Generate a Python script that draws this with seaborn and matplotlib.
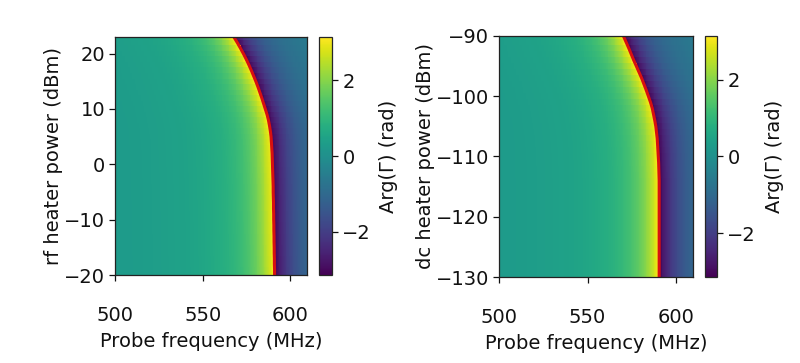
import numpy as np
import matplotlib
matplotlib.use("Agg")
import matplotlib.pyplot as plt
import seaborn as sns

# ---- data ----
freq_mhz = np.arange(500.0, 610.5, 0.5)          # probe frequency axis
linewidth_mhz = 12.0                              # resonance half-width

rf_power_dbm = np.arange(-20, 24, 1)              # rf heater power rows
rf_f0_mhz = [591.0, 591.0, 590.9, 590.9, 590.8, 590.8, 590.7, 590.7, 590.6, 590.6,
             590.5, 590.5, 590.4, 590.4, 590.3, 590.2, 590.2, 590.1, 590.0, 589.9,
             589.8, 589.7, 589.6, 589.4, 589.2, 589.0, 588.6, 588.1, 587.5, 586.7,
             585.7, 584.7, 583.7, 582.6, 581.5, 580.3, 579.0, 577.7, 576.3, 574.8,
             573.2, 571.5, 569.7, 567.8]

dc_power_dbm = np.arange(-130, -89, 1)            # dc heater power rows
dc_f0_mhz = [590.4] * 17 + [590.3, 590.2, 590.1, 589.9, 589.7, 589.5, 589.3, 588.9,
                            588.5, 587.9, 587.2, 586.5, 585.5, 584.3, 583.1, 581.8,
                            580.5, 579.0, 577.5, 576.0, 574.6, 573.2, 571.7, 570.2]

x_ticks = [500, 550, 600]
rf_yticks = [-20, -10, 0, 10, 20]
dc_yticks = [-130, -120, -110, -100, -90]
cb_ticks = [-2, 0, 2]


def phase_map(f0):
    f0 = np.asarray(f0)[:, None]
    theta = np.pi + 2.0 * np.arctan((freq_mhz[None, :] - f0) / linewidth_mhz)
    return np.angle(np.exp(1j * theta))


sns.set_style("ticks")
plt.rcParams["font.family"] = ["DejaVu Sans"]
plt.rcParams["font.size"] = 14
plt.rcParams["text.color"] = "#111111"
plt.rcParams["axes.labelcolor"] = "#111111"
plt.rcParams["xtick.color"] = "#111111"
plt.rcParams["ytick.color"] = "#111111"
plt.rcParams["axes.linewidth"] = 0.9
plt.rcParams["xtick.major.width"] = 0.9
plt.rcParams["ytick.major.width"] = 0.9

fig = plt.figure(figsize=(8.0, 3.63), dpi=100)

panels = [
    dict(ax=[0.14375, 0.2424, 0.24, 0.6556], cb=[0.39875, 0.2424, 0.01625, 0.6556],
         P=rf_power_dbm, f0=rf_f0_mhz, ylim=(-20, 23), yticks=rf_yticks,
         ylabel="rf heater power (dBm)", labelpad=1),
    dict(ax=[0.62375, 0.2369, 0.2425, 0.664], cb=[0.88125, 0.2369, 0.015, 0.664],
         P=dc_power_dbm, f0=dc_f0_mhz, ylim=(-130, -90), yticks=dc_yticks,
         ylabel="dc heater power (dBm)", labelpad=1),
]

for p in panels:
    ax = fig.add_axes(p["ax"])
    cax = fig.add_axes(p["cb"])
    Z = phase_map(p["f0"])
    mesh = ax.pcolormesh(freq_mhz, p["P"], Z, cmap="viridis", vmin=-np.pi, vmax=np.pi,
                         shading="nearest", rasterized=True)
    sns.lineplot(x=p["f0"], y=p["P"], sort=False, orient="y", ax=ax,
                 color="#d81010", linewidth=2.2, estimator=None)
    ax.set_xlim(500, 609.5)
    ax.set_ylim(*p["ylim"])
    ax.set_xticks(x_ticks)
    ax.set_yticks(p["yticks"])
    ax.tick_params(axis="x", pad=18, length=4)
    ax.tick_params(axis="y", length=4, pad=3)
    ax.set_xlabel("Probe frequency (MHz)", labelpad=5)
    ax.set_ylabel(p["ylabel"], labelpad=p["labelpad"])
    for s in ax.spines.values():
        s.set_color("#222222")
    cb = fig.colorbar(mesh, cax=cax, ticks=cb_ticks)
    cb.set_label("Arg(Γ) (rad)", labelpad=6)
    cb.ax.tick_params(length=4)
    cb.outline.set_linewidth(0.9)

fig.savefig("out.png", dpi=100)
